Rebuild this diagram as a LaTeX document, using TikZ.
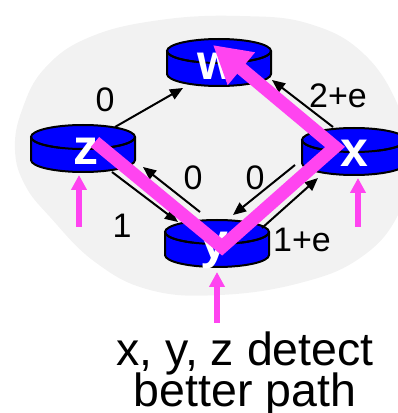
\documentclass[tikz,border=0pt]{standalone}
\usepackage{fontspec}
\setmainfont{Liberation Sans}
\usetikzlibrary{arrows.meta}
\definecolor{blobgrey}{RGB}{242,242,242}
\definecolor{pinkpath}{RGB}{255,68,240}
\newcommand\routercyl[2]{%
  \fill[blue] (#1-52,#2) -- (#1-52,#2-23) arc[start angle=180,end angle=360,x radius=52,y radius=12] -- (#1+52,#2) arc[start angle=0,end angle=180,x radius=52,y radius=12] -- cycle;
  \draw[rline] (#1-52,#2) -- (#1-52,#2-23) arc[start angle=180,end angle=360,x radius=52,y radius=12] -- (#1+52,#2);
  \draw[rline] (#1,#2) ellipse[x radius=52,y radius=12];
}
\tikzset{
  rline/.style={black,line width=2pt},
  rlabel/.style={text=white,font=\fontsize{50}{50}\selectfont\bfseries,inner sep=0pt,anchor=base},
  elabel/.style={text=black,font=\fontsize{34}{34}\selectfont,inner sep=0pt},
  link/.style={black,line width=2pt,-{Triangle[length=13pt,width=11pt]}},
  bigpink/.style={pinkpath,line width=13pt,-{Triangle[length=37pt,width=40pt]}},
  smallpink/.style={pinkpath,line width=6pt,-{Triangle[length=15pt,width=15pt]}},
  caption/.style={text=black,font=\fontsize{46.5}{46}\selectfont,inner sep=0pt,anchor=base}
}
\begin{document}
\begin{tikzpicture}[x=1pt,y=1pt]
\useasboundingbox (0,0) rectangle (398,413);
\clip (0,0) rectangle (398,413);
% background blob
\fill[blobgrey] plot[smooth cycle,tension=0.7] coordinates {(15,263) (22,303) (45,345) (90,376) (160,393) (240,397) (310,389) (365,358) (400,303) (410,253) (398,198) (360,155) (300,130) (220,118) (150,123) (95,151) (50,196) (25,228)};
% routers
\routercyl{219}{362}
\routercyl{83}{276}
\routercyl{354}{273}
\routercyl{217}{181}
\foreach \cx/\cy in {219/362,83/276,354/273,217/181}{
  \draw[rline] (\cx-52,\cy) arc[start angle=180,end angle=243,x radius=52,y radius=12];
  \draw[rline] (\cx+52,\cy) arc[start angle=360,end angle=297,x radius=52,y radius=12];
}
\node[rlabel] (w) at (217,333) {w};
\node[rlabel] (z) at (86,248) {z};
\node[rlabel] (x) at (354,246) {x};
\node[rlabel] (y) at (214,154) {y};
% connector end points
\coordinate (zw1) at (115,286); \coordinate (zw2) at (183,325);
\coordinate (xw1) at (333,286); \coordinate (xw2) at (272,333);
\coordinate (zy1) at (112,241); \coordinate (zy2) at (178,191);
\coordinate (yz1) at (200,201); \coordinate (yz2) at (143,246);
\coordinate (xy1) at (295,248); \coordinate (xy2) at (233,198);
\coordinate (yx1) at (262,185); \coordinate (yx2) at (318,235);
\draw[link] (zw1) -- (zw2);
\draw[link] (xw1) -- (xw2);
\draw[link] (zy1) -- (zy2);
\draw[link] (yz1) -- (yz2);
\draw[link] (xy1) -- (xy2);
\draw[link] (yx1) -- (yx2);
% edge labels
\node[elabel] (lzw) at (105,313) {0};
\node[elabel] (lxw) at (338,317) {2+e};
\node[elabel] (lyz) at (193,235) {0};
\node[elabel] (lxy) at (255,235) {0};
\node[elabel] (lzy) at (122,187) {1};
\node[elabel] (lyx) at (302,173) {1+e};
% pink path
\coordinate (pz) at (95,271);
\coordinate (py) at (222,166);
\coordinate (px) at (335,266);
\coordinate (pw) at (213,368);
\draw[bigpink] (pz) -- (py) -- (px) -- (pw);
% small pink arrows
\coordinate (az) at (79,186); \coordinate (bz) at (79,238);
\coordinate (ax) at (358,186); \coordinate (bx) at (358,235);
\coordinate (ay) at (217,90); \coordinate (by) at (217,141);
\draw[smallpink] (az) -- (bz);
\draw[smallpink] (ax) -- (bx);
\draw[smallpink] (ay) -- (by);
% caption
\node[caption] (cap1) at (245,48) {x, y, z detect};
\node[caption] (cap2) at (245,6) {better path};
\end{tikzpicture}
\end{document}
